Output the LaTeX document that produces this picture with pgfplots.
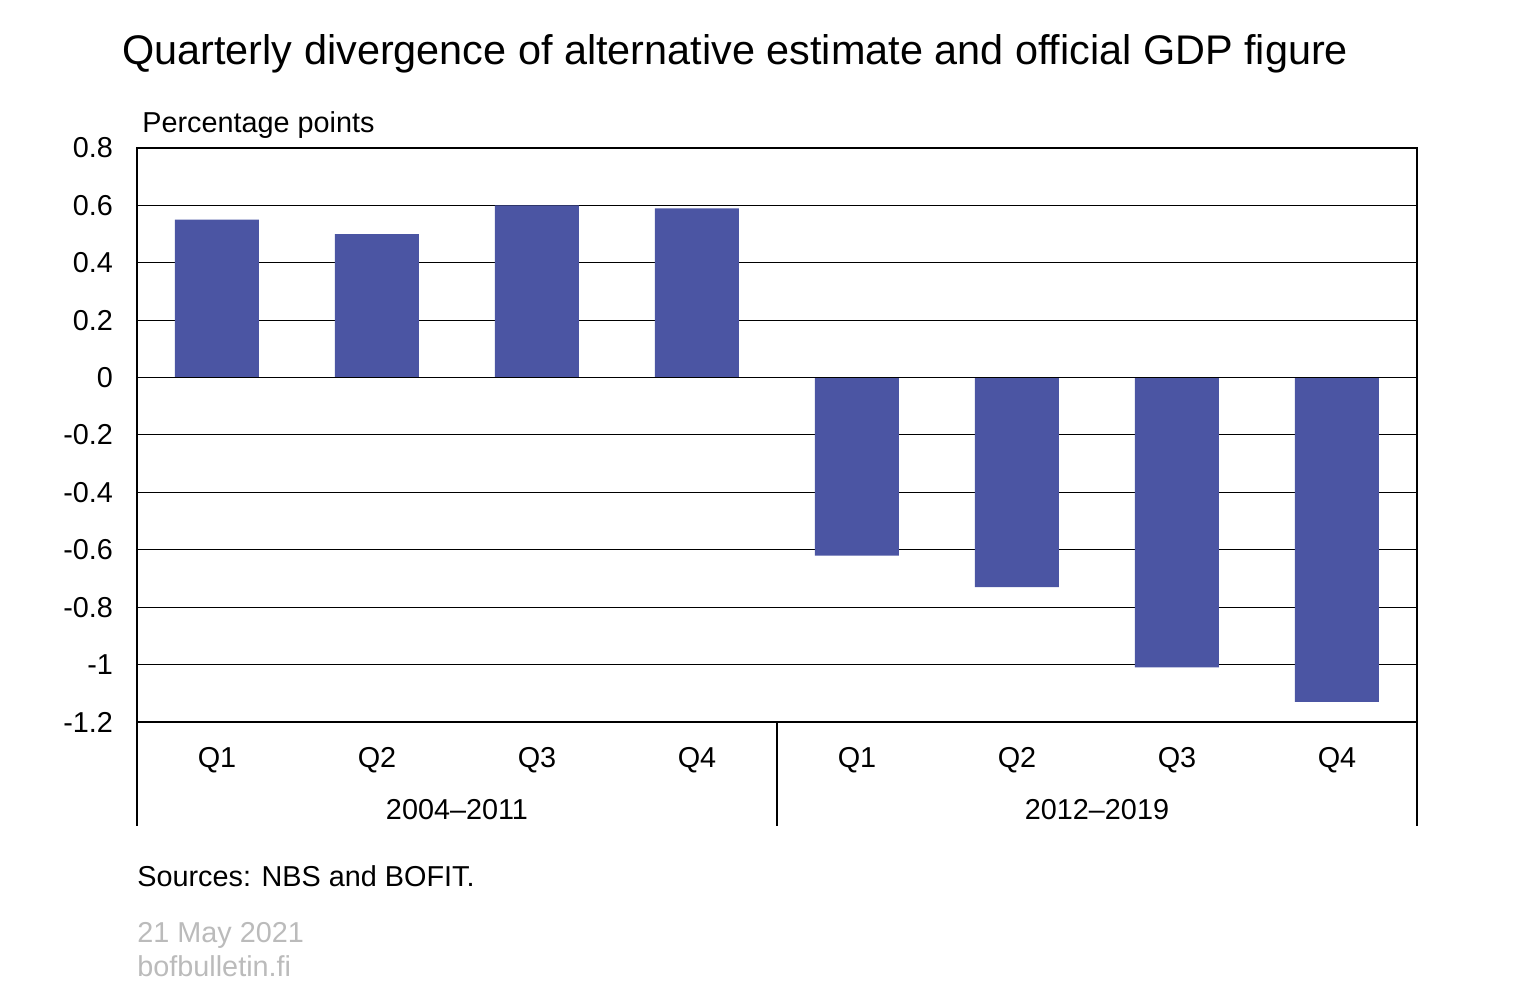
\documentclass[border=0pt]{standalone}
\usepackage{fontspec}
\setmainfont{Liberation Sans}
\usepackage{pgfplots}
\pgfplotsset{compat=1.18}
\definecolor{barblue}{HTML}{4B55A3}
\definecolor{datagray}{HTML}{BBBBBB}
\begin{document}
\begin{tikzpicture}
% page frame: 1 px of the reference = 0.5pt, origin at the axis's lower left corner
\useasboundingbox (-68.5pt,-133.5pt) rectangle (688.5pt,361pt);
\begin{axis}[
    at={(0pt,0pt)}, anchor=south west,
    scale only axis,
    width=640pt, height=287pt,
    xmin=0.5, xmax=8.5,
    ymin=-1.2, ymax=0.8,
    ytick={-1.2,-1,-0.8,-0.6,-0.4,-0.2,0,0.2,0.4,0.6,0.8},
    yticklabels={-1.2,-1,-0.8,-0.6,-0.4,-0.2,0,0.2,0.4,0.6,0.8},
    xtick={1,2,3,4,5,6,7,8},
    xticklabels={Q1,Q2,Q3,Q4,Q1,Q2,Q3,Q4},
    major tick length=0pt,
    ymajorgrids=true,
    grid style={black, line width=0.5pt},
    axis line style={black, line width=0.8pt},
    tick label style={font=\fontsize{14.4}{16}\selectfont},
    yticklabel style={xshift=-8.5pt},
    xticklabel style={anchor=center, yshift=-19pt},
    clip=false,
    ybar, bar width=42pt,
]
\addplot[fill=barblue, draw=none] coordinates {
    (1,0.55) (2,0.50) (3,0.60) (4,0.59)
    (5,-0.62) (6,-0.73) (7,-1.01) (8,-1.13)
};
\draw[black, line width=0.8pt] (axis cs:0.5,0) -- (axis cs:8.5,0);
% category strip below the axis
\draw[black, line width=0.8pt] (rel axis cs:0,0) -- ([yshift=-52pt]rel axis cs:0,0);
\draw[black, line width=0.8pt] (rel axis cs:0.5,0) -- ([yshift=-52pt]rel axis cs:0.5,0);
\draw[black, line width=0.8pt] (rel axis cs:1,0) -- ([yshift=-52pt]rel axis cs:1,0);
\node[font=\fontsize{14.4}{16}\selectfont] at ([yshift=-44pt]axis cs:2.5,-1.2) {2004–2011};
\node[font=\fontsize{14.4}{16}\selectfont] at ([yshift=-44pt]axis cs:6.5,-1.2) {2012–2019};
\end{axis}
\node[anchor=west, inner sep=0pt, font=\fontsize{14.4}{16}\selectfont] at (2.5pt,298.5pt) {Percentage points};
\node[anchor=west, inner sep=0pt, font=\fontsize{20.7}{24}\selectfont] at (-7.5pt,334pt) {Quarterly divergence of alternative estimate and official GDP figure};
\node[anchor=west, font=\fontsize{14.4}{16}\selectfont, inner sep=0pt] at (0pt,-77pt) {Sources: NBS and BOFIT.};
\node[anchor=west, font=\fontsize{14.4}{16}\selectfont, text=datagray, inner sep=0pt] at (0pt,-106.5pt) {21 May 2021};
\node[anchor=west, font=\fontsize{14.4}{16}\selectfont, text=datagray, inner sep=0pt] at (0pt,-122pt) {bofbulletin.fi};
\end{tikzpicture}
\end{document}
